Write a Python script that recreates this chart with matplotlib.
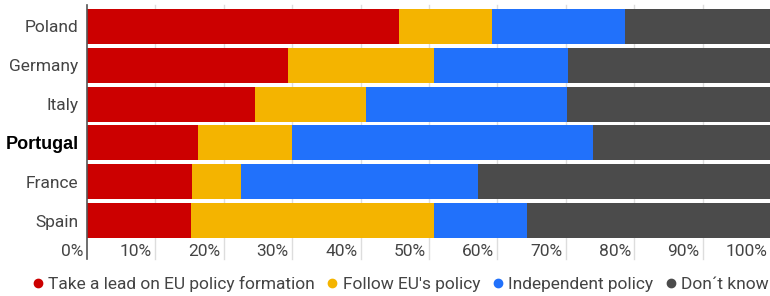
import matplotlib.pyplot as plt
from matplotlib.lines import Line2D
import numpy as np

plt.rcParams['font.family'] = ['Roboto', 'DejaVu Sans']

# Survey shares (%) per country, top to bottom
countries = ['Poland', 'Germany', 'Italy', 'Portugal', 'France', 'Spain']
lead = [45.6, 29.4, 24.5, 16.3, 15.4, 15.2]
follow = [13.6, 21.4, 16.3, 13.6, 7.1, 35.5]
independent = [19.5, 19.5, 29.4, 44.1, 34.6, 13.7]
dont_know = [21.3, 29.7, 29.8, 26.0, 42.9, 35.6]

series_names = ['Take a lead on EU policy formation', "Follow EU's policy",
                'Independent policy', 'Don\u00b4t know']
colors = ['#cc0000', '#f4b400', '#2171fb', '#4b4b4b']
text_color = '#444444'
fs = 12.5

fig = plt.figure(figsize=(7.7, 2.96), dpi=100)
ax = fig.add_axes([87 / 770, 56 / 296, 684 / 770, 233 / 296])

y = np.arange(len(countries))
left = np.zeros(len(countries))
for vals, col in zip([lead, follow, independent, dont_know], colors):
    ax.barh(y, vals, left=left, height=0.9, color=col, zorder=2)
    left += np.array(vals)

ax.set_xlim(0, 100)
ax.set_ylim(len(countries) - 0.5, -0.5)

# grid lines that run down through the tick label row
for v in range(10, 101, 10):
    ax.axvline(v, ymin=-0.08, ymax=1.01, color='#dddddd', lw=1, zorder=1, clip_on=False)
ax.axvline(0, ymin=-0.08, ymax=1.01, color='#555555', lw=1.2, zorder=3, clip_on=False)

for s in ax.spines.values():
    s.set_visible(False)
ax.set_xticks([])
ax.set_yticks(y)
ax.set_yticklabels(countries, fontsize=fs, color=text_color)
ax.tick_params(axis='y', length=0, pad=6)
lbl = ax.get_yticklabels()[countries.index('Portugal')]
lbl.set_fontweight('bold')
lbl.set_family(['Liberation Sans', 'DejaVu Sans'])
lbl.set_fontsize(13)
lbl.set_color('black')

for v in range(0, 101, 10):
    ax.text(v - 0.5, -0.05, f'{v}%', ha='right', va='center', fontsize=fs,
            color=text_color, transform=ax.get_xaxis_transform())

handles = [Line2D([], [], marker='o', ls='none', color=c, markersize=6) for c in colors]
fig.legend(handles, series_names, loc='center', bbox_to_anchor=(0.518, 12 / 296),
           ncol=4, frameon=False, fontsize=fs, labelcolor=text_color,
           handletextpad=0.1, columnspacing=0.5, handlelength=1.0, borderpad=0)

fig.savefig('out.png', dpi=100)
